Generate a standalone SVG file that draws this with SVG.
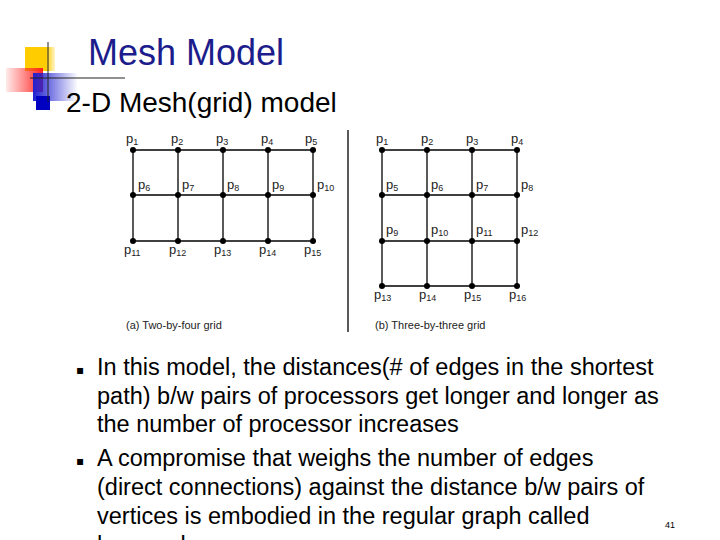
<svg xmlns="http://www.w3.org/2000/svg" width="720" height="540" viewBox="0 0 720 540">
<defs>
<linearGradient id="rg" x1="0" x2="1"><stop offset="0" stop-color="#ff3030" stop-opacity="0.1"/><stop offset="1" stop-color="#ff2020"/></linearGradient>
<linearGradient id="bg" x1="0" x2="1"><stop offset="0" stop-color="#2020d0"/><stop offset="1" stop-color="#2020d0" stop-opacity="0"/></linearGradient>
<linearGradient id="yg" x1="0" x2="1"><stop offset="0" stop-color="#ffcc00"/><stop offset="0.7" stop-color="#ffcc00"/><stop offset="1" stop-color="#ffcc00" stop-opacity="0.2"/></linearGradient>
<style>
.g line{stroke:#000;stroke-width:1.3}
.g circle{fill:#000}
.l{font-family:"Liberation Sans",Arial,sans-serif;font-size:13px;fill:#222}
.s{font-size:9px}
.c{font-family:"Liberation Sans",Arial,sans-serif;font-size:11px;fill:#222}
.b{font-family:"Liberation Sans",Arial,sans-serif;font-size:23.5px;fill:#000}
.m{font-family:"DejaVu Sans",sans-serif;font-size:12px;fill:#000}
</style>
</defs>
<rect width="720" height="540" fill="#fff"/>
<g id="logo">
<rect x="25" y="47" width="30" height="24" fill="url(#yg)"/>
<rect x="6" y="68" width="37" height="24" fill="url(#rg)"/>
<rect x="33" y="73" width="45" height="28" fill="url(#bg)"/>
<rect x="36" y="96" width="14" height="14" fill="#0000c0"/>
<line x1="48" y1="42" x2="48" y2="102" stroke="#222" stroke-width="1"/>
<line x1="30" y1="78" x2="125" y2="78" stroke="#222" stroke-width="1"/>
</g>
<text x="88" y="65" font-family="Liberation Sans,Arial,sans-serif" font-size="36" fill="#1c1c8c">Mesh Model</text>
<text x="66" y="112" font-family="Liberation Sans,Arial,sans-serif" font-size="28" fill="#000">2-D Mesh(grid) model</text>
<g id="gridA" class="g">
<line x1="133" y1="150" x2="313" y2="150"/><line x1="133" y1="195" x2="313" y2="195"/><line x1="133" y1="241" x2="313" y2="241"/>
<line x1="133" y1="150" x2="133" y2="241"/><line x1="178" y1="150" x2="178" y2="241" stroke-width="0.8"/><line x1="223" y1="150" x2="223" y2="241"/><line x1="268" y1="150" x2="268" y2="241" stroke-width="0.8"/><line x1="313" y1="150" x2="313" y2="241"/>
<circle cx="133" cy="150" r="3"/><circle cx="178" cy="150" r="3"/><circle cx="223" cy="150" r="3"/><circle cx="268" cy="150" r="3"/><circle cx="313" cy="150" r="3"/>
<circle cx="133" cy="195" r="3"/><circle cx="178" cy="195" r="3"/><circle cx="223" cy="195" r="3"/><circle cx="268" cy="195" r="3"/><circle cx="313" cy="195" r="3"/>
<circle cx="133" cy="241" r="3"/><circle cx="178" cy="241" r="3"/><circle cx="223" cy="241" r="3"/><circle cx="268" cy="241" r="3"/><circle cx="313" cy="241" r="3"/>
<text class="l" x="126" y="143">p<tspan class="s" dy="2">1</tspan></text>
<text class="l" x="171" y="143">p<tspan class="s" dy="2">2</tspan></text>
<text class="l" x="216" y="143">p<tspan class="s" dy="2">3</tspan></text>
<text class="l" x="261" y="143">p<tspan class="s" dy="2">4</tspan></text>
<text class="l" x="305" y="143">p<tspan class="s" dy="2">5</tspan></text>
<text class="l" x="138" y="189">p<tspan class="s" dy="2">6</tspan></text>
<text class="l" x="182" y="189">p<tspan class="s" dy="2">7</tspan></text>
<text class="l" x="227" y="189">p<tspan class="s" dy="2">8</tspan></text>
<text class="l" x="272" y="189">p<tspan class="s" dy="2">9</tspan></text>
<text class="l" x="317" y="189">p<tspan class="s" dy="2">10</tspan></text>
<text class="l" x="124" y="254">p<tspan class="s" dy="2">11</tspan></text>
<text class="l" x="169" y="254">p<tspan class="s" dy="2">12</tspan></text>
<text class="l" x="214" y="254">p<tspan class="s" dy="2">13</tspan></text>
<text class="l" x="259" y="254">p<tspan class="s" dy="2">14</tspan></text>
<text class="l" x="304" y="254">p<tspan class="s" dy="2">15</tspan></text>
<text class="c" x="126" y="329">(a)  Two-by-four grid</text>
</g>
<line x1="348" y1="130" x2="348" y2="332" stroke="#000" stroke-width="1.3"/>
<g id="gridB" class="g">
<line x1="382" y1="150" x2="517" y2="150"/><line x1="382" y1="195" x2="517" y2="195"/><line x1="382" y1="241" x2="517" y2="241"/><line x1="382" y1="286" x2="517" y2="286" stroke-width="0.8"/>
<line x1="382" y1="150" x2="382" y2="286"/><line x1="427" y1="150" x2="427" y2="286" stroke-width="0.8"/><line x1="472" y1="150" x2="472" y2="286"/><line x1="517" y1="150" x2="517" y2="286"/>
<circle cx="382" cy="150" r="3"/><circle cx="427" cy="150" r="3"/><circle cx="472" cy="150" r="3"/><circle cx="517" cy="150" r="3"/>
<circle cx="382" cy="195" r="3"/><circle cx="427" cy="195" r="3"/><circle cx="472" cy="195" r="3"/><circle cx="517" cy="195" r="3"/>
<circle cx="382" cy="241" r="3"/><circle cx="427" cy="241" r="3"/><circle cx="472" cy="241" r="3"/><circle cx="517" cy="241" r="3"/>
<circle cx="382" cy="286" r="3"/><circle cx="427" cy="286" r="3"/><circle cx="472" cy="286" r="3"/><circle cx="517" cy="286" r="3"/>
<text class="l" x="376" y="143">p<tspan class="s" dy="2">1</tspan></text>
<text class="l" x="421" y="143">p<tspan class="s" dy="2">2</tspan></text>
<text class="l" x="466" y="143">p<tspan class="s" dy="2">3</tspan></text>
<text class="l" x="511" y="143">p<tspan class="s" dy="2">4</tspan></text>
<text class="l" x="386" y="189">p<tspan class="s" dy="2">5</tspan></text>
<text class="l" x="431" y="189">p<tspan class="s" dy="2">6</tspan></text>
<text class="l" x="476" y="189">p<tspan class="s" dy="2">7</tspan></text>
<text class="l" x="521" y="189">p<tspan class="s" dy="2">8</tspan></text>
<text class="l" x="386" y="234">p<tspan class="s" dy="2">9</tspan></text>
<text class="l" x="431" y="234">p<tspan class="s" dy="2">10</tspan></text>
<text class="l" x="476" y="234">p<tspan class="s" dy="2">11</tspan></text>
<text class="l" x="521" y="234">p<tspan class="s" dy="2">12</tspan></text>
<text class="l" x="374" y="299">p<tspan class="s" dy="2">13</tspan></text>
<text class="l" x="419" y="299">p<tspan class="s" dy="2">14</tspan></text>
<text class="l" x="464" y="299">p<tspan class="s" dy="2">15</tspan></text>
<text class="l" x="509" y="299">p<tspan class="s" dy="2">16</tspan></text>
<text class="c" x="375" y="329">(b)  Three-by-three grid</text>
</g>
<text class="m" x="76" y="374">▪</text>
<text class="b" x="97" y="375">In this model, the distances(# of edges in the shortest</text>
<text class="b" x="97" y="404">path) b/w pairs of processors get longer and longer as</text>
<text class="b" x="97" y="432">the number of processor increases</text>
<text class="m" x="76" y="465">▪</text>
<text class="b" x="97" y="466">A compromise that weighs the number of edges</text>
<text class="b" x="97" y="495">(direct connections) against the distance b/w pairs of</text>
<text class="b" x="97" y="524">vertices is embodied in the regular graph called</text>
<text class="b" x="97" y="553" fill="#e00000">hypercube.</text>
<text x="665" y="528" font-family="Liberation Sans,Arial,sans-serif" font-size="9" fill="#000">41</text>
</svg>
